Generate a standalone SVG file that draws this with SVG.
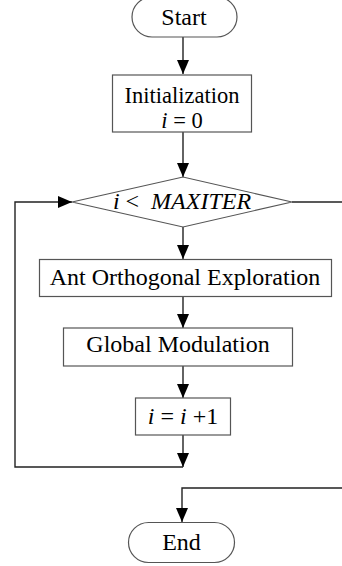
<svg xmlns="http://www.w3.org/2000/svg" width="342" height="566" viewBox="0 0 342 566">
  <defs>
    <marker id="arrow" markerWidth="14" markerHeight="12" refX="14" refY="6" orient="auto" markerUnits="userSpaceOnUse">
      <path d="M0,0 L14,6 L0,12 Z" fill="#000"/>
    </marker>
    <style>
      .box { fill: #fff; stroke: #555; stroke-width: 1.2; }
      .conn { fill: none; stroke: #222; stroke-width: 1.4; }
      .lbl { font-size: 24px; fill: #000; text-anchor: middle; }
      .sm { font-size: 22.5px; }
      .it { font-style: italic; }
    </style>
  </defs>

  <rect width="342" height="566" fill="#fff"/>

  <!-- connectors -->
  <g id="connectors">
    <line class="conn" x1="183" y1="37" x2="183" y2="74" marker-end="url(#arrow)"/>
    <line class="conn" x1="183" y1="132" x2="183" y2="177" marker-end="url(#arrow)"/>
    <line class="conn" x1="183" y1="227" x2="183" y2="259" marker-end="url(#arrow)"/>
    <line class="conn" x1="183" y1="297" x2="183" y2="328" marker-end="url(#arrow)"/>
    <line class="conn" x1="183" y1="366" x2="183" y2="398" marker-end="url(#arrow)"/>
    <line class="conn" x1="183" y1="435" x2="183" y2="467" marker-end="url(#arrow)"/>
    <!-- loop back to the test -->
    <polyline class="conn" points="183,467 15,467 15,202 72,202" marker-end="url(#arrow)"/>
    <!-- exit branch -->
    <line class="conn" x1="292" y1="202" x2="342" y2="202"/>
    <polyline class="conn" points="342,488 182,488 182,522" marker-end="url(#arrow)"/>
  </g>

  <g font-family="'Liberation Serif', 'Times New Roman', 'DejaVu Serif', serif">
    <g id="start">
      <rect class="box" x="132" y="-3" width="105" height="40" rx="20" ry="20"/>
      <text class="lbl" x="184" y="25">Start</text>
    </g>

    <g id="init">
      <rect class="box" x="112.5" y="75" width="139" height="57"/>
      <text class="lbl sm" x="182" y="102.5">Initialization</text>
      <text class="lbl sm" x="182" y="127.5"><tspan class="it">i</tspan> = 0</text>
    </g>

    <g id="test">
      <polygon class="box" points="72,202 183,177 292,202 183,227"/>
      <text class="lbl" x="182" y="209" xml:space="preserve"><tspan class="it">i</tspan> &lt;  <tspan class="it">MAXITER</tspan></text>
    </g>

    <g id="explore">
      <rect class="box" x="39.5" y="259.5" width="292" height="37"/>
      <text class="lbl" x="185" y="285">Ant Orthogonal Exploration</text>
    </g>

    <g id="modulate">
      <rect class="box" x="63.5" y="328" width="229" height="38"/>
      <text class="lbl" x="178" y="352">Global Modulation</text>
    </g>

    <g id="increment">
      <rect class="box" x="135.5" y="398" width="95" height="37"/>
      <text class="lbl" x="183" y="424"><tspan class="it">i</tspan> = <tspan class="it">i</tspan> +1</text>
    </g>

    <g id="end">
      <rect class="box" x="128.5" y="522.5" width="106" height="40" rx="20" ry="20"/>
      <text class="lbl" x="181.5" y="550">End</text>
    </g>
  </g>
</svg>
